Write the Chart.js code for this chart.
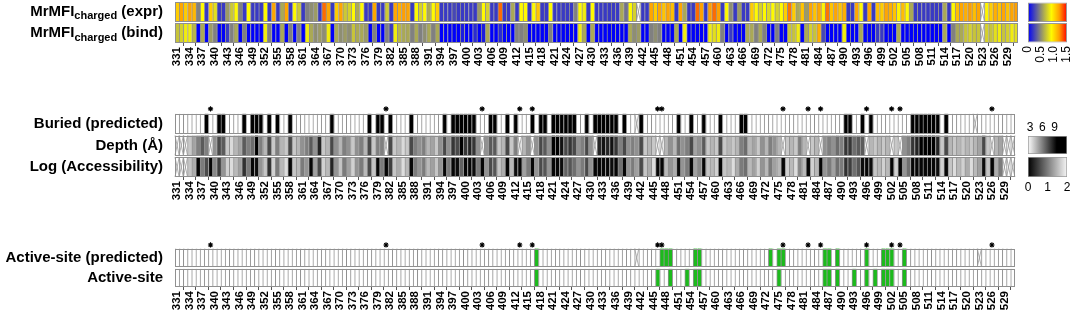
<!DOCTYPE html>
<html>
<head>
<meta charset="utf-8">
<script src="https://cdn.jsdelivr.net/npm/chart.js@4.4.1/dist/chart.umd.min.js"></script>
<style>
  html, body { margin: 0; padding: 0; background: #fff; }
  #wrap { position: relative; width: 1072px; height: 316px; overflow: hidden; }
  canvas { position: absolute; }
</style>
</head>
<body>
<div id="wrap">
  <canvas id="cTop" width="1020" height="72" style="left:0;top:0"></canvas>
  <canvas id="cMid" width="1020" height="106" style="left:0;top:100px"></canvas>
  <canvas id="cBot" width="1020" height="80" style="left:0;top:236px"></canvas>
  <canvas id="cbTop" width="52" height="72" style="left:1020px;top:0"></canvas>
  <canvas id="cbDepth" width="52" height="36" style="left:1020px;top:118px"></canvas>
  <canvas id="cbAcc" width="52" height="34" style="left:1020px;top:157px"></canvas>
</div>
<script>
// ── data ─────────────────────────────────────────────────────────────────
const RESIDUES = Array.from({ length: 201 }, (_, i) => 331 + i);
const TICK_EVERY = 3;

// MrMFI(charged), expression and binding (null = no data)
const MFI_EXPR = [
  1.05, 1.18, 1.05, 1.18, 1.12, 0.45, 0.9, 0.2, 1.05, 0.8,
  0.2, 0.2, 0.55, 0.72, 0.9, 0.45, 0.2, 0.9, 0.2, 0.2,
  0.2, 0.9, 0.2, 1.18, 0.2, 0.6, 1.18, 0.2, 0.9, 0.72,
  0.2, 0.45, 0.5, 0.55, 0.2, 1.3, 1.18, 0.2, 1.05, 1.18,
  0.72, 0.75, 0.9, 0.6, 0.9, 0.2, 0.2, 1.18, 0.2, 0.2,
  0.72, 0.2, 1.18, 1.15, 1.2, 1.18, 0.2, 0.9, 0.75, 0.9,
  0.6, 0.9, 1.05, 0.2, 0.2, 0.2, 0.25, 0.2, 0.2, 0.2,
  0.2, 0.2, 0.55, 0.9, 0.75, 0.2, 0.2, 1.3, 0.2, 0.2,
  0.6, 0.2, 0.9, 0.9, 0.2, 0.9, 1.08, 0.2, 0.2, 0.9,
  0.2, 0.2, 0.2, 0.2, 0.2, 0.45, 0.9, 0.85, 0.2, 0.9,
  0.2, 0.2, 0.2, 0.2, 0.2, 0.2, 0.6, 0.4, 0.9, 0.75,
  null, 0.2, 0.2, 1.18, 1.05, 1.18, 1.08, 1.18, 1.1, 0.2,
  1.18, 0.6, 0.2, 0.2, 1.3, 1.2, 0.2, 1.2, 1.3, 1.2,
  0.2, 0.9, 0.5, 0.2, 0.55, 0.2, 0.2, 1.05, 0.9, 0.75,
  0.9, 0.78, 0.9, 0.75, 0.9, 1.05, 1.28, 1.05, 0.6, 1.08,
  0.55, 1.18, 1.08, 1.18, 0.92, 1.28, 1.08, 1.18, 1.08, 1.15,
  0.2, 0.2, 1.18, 0.9, 0.2, 1.18, 0.2, 1.1, 1.05, 1.18,
  1.15, 1.08, 0.92, 1.1, 0.9, 0.6, 0.2, 0.2, 0.2, 0.2,
  0.2, 0.2, 0.2, 0.6, 0.2, 0.9, 1.1, 1.18, 1.15, 1.2,
  1.1, 1.18, null, 0.92, 1.05, 1.15, 1.08, 1.18, 1.08, 1.18, 1.2,
];
const MFI_BIND = [
  0.7, 0.75, 0.85, 0.85, 0.65, 0, 0.6, 0, 0.55, 0.45,
  0, 0, 0.2, 0.45, 0.6, 0, 0.45, 0, 0, 0,
  0, 0.85, 0.45, 0, 0, 0.6, 0, 0.45, 0, 0.45,
  0, 0.85, 0.6, 0.5, 0.55, 0.5, 0.85, 0, 0.6, 0.5,
  0.55, 0.5, 0.7, 0.6, 0.6, 0.55, 0, 0.45, 0, 0,
  0.45, 0.2, 0.85, 0.65, 0.6, 0.6, 0.45, 0.6, 0.45, 0.5,
  0.6, 0.45, 0.6, 0, 0, 0, 0, 0, 0.1, 0,
  0, 0.15, 0, 0.1, 0.6, 0, 0, 0.15, 0, 0,
  0, 0.45, 0.45, 0.5, 0, 0, 0, 0, 0, 0.45,
  0, 0, 0, 0, 0, 0, 0.85, 0.6, 0, 0.6,
  0, 0, 0, 0, 0, 0, 0, 0, 0.6, 0.5,
  0.55, 0, 0, 0.45, 0.5, 0.45, 0, 0, 0, 0.6,
  0, 0.85, 0, 0, 0, 0, 0, 0.85, 0.8, 0.85,
  0.45, 0, 0.2, 0, 0, 0, 0.6, 0.6, 0.45, 0.6,
  0.45, 0, 0, 0.45, 0, 0, 0.7, 0.7, 0.85, 0,
  0.6, 0.75, 0.7, 1.15, 0.25, 0, 0, 0, 0, 0.85,
  0, 0, 0, 0.6, 0, 0, 0, 0.2, 0.2, 0,
  0, 0, 0.6, 0, 0, 0, 0, 0, 0, 0,
  0, 0, 0, 0.6, 0, 0.45, 0.6, 0.6, 0.7, 0.75,
  0.7, 0.7, null, 0.75, 0.7, 0.8, 0.85, 0.7, 0.75, 0.85, 0.8,
];

// buried residues (predicted), residue depth (Å), log(accessibility)
const BURIED = [338, 341, 342, 347, 349, 350, 351, 353, 355, 358, 368, 377, 379, 380, 382, 387,
  395, 397, 398, 399, 400, 401, 402, 406, 407, 410, 412, 416, 418, 419, 421, 422, 423, 424, 425, 426,
  429, 431, 432, 433, 434, 435, 436, 438, 442, 451, 454, 457, 461, 466, 467, 491, 492, 495, 497,
  507, 508, 509, 510, 511, 512, 513, 515];
const BURIED_NA = [441, 522];
const DEPTH = [
  null, null, null, 4.0, 5.0, 6.0, 7.0, 6.0, null, 5.5,
  7.5, 7.0, 4.0, 3.5, 4.5, 5.0, 7.0, 6.0, 6.5, 9.5,
  6.0, 4.5, 7.5, 4.0, 6.0, 4.5, 4.0, 7.5, 4.0, 4.5,
  5.5, 6.0, 7.0, 5.5, 8.5, 4.0, 4.5, 7.5, 5.5, 4.5,
  6.0, 5.5, 4.0, 5.5, 6.0, 4.5, 7.5, 4.0, 6.0, 6.0,
  null, 7.5, 4.0, 4.5, 3.5, 4.0, 7.5, 6.0, 5.5, 6.0,
  4.5, 5.0, 4.0, 5.5, 7.5, 5.5, 8.0, 7.5, 9.5, 8.0,
  8.5, 8.0, 5.5, null, 5.5, 7.0, 7.0, 4.0, 4.5, 7.5,
  4.0, 6.0, null, 4.5, 5.5, null, 5.5, 7.5, 7.0, 5.5,
  9.5, 9.5, 9.0, 7.5, 8.0, 7.5, 5.5, 6.0, 7.5, 5.5,
  null, 8.5, 9.0, 8.5, 9.0, 8.0, 6.0, 7.5, 5.5, 6.0,
  5.5, 7.5, 4.0, 4.5, 4.0, null, null, 4.5, 5.5, 4.5,
  6.5, 5.5, 6.0, 7.5, 5.0, 5.5, 7.0, 4.0, 4.5, 4.0,
  7.5, 4.0, 4.5, 4.0, 4.5, 6.0, 6.5, 4.5, 5.0, 4.0,
  5.5, 4.5, 6.0, 5.5, 4.5, null, 4.0, 4.5, 4.0, 6.0,
  4.5, null, 4.0, 4.5, null, 5.5, 6.0, 5.5, 6.5, 6.0,
  8.0, 8.0, 6.5, 7.0, 7.0, null, 4.5, 4.0, 4.5, 4.0,
  4.5, null, 4.0, null, 5.5, 6.0, 8.0, 8.5, 9.5, 10.0,
  10.0, 9.5, 8.5, 4.0, 7.5, 4.5, 4.0, 4.5, 4.0, 4.5,
  4.0, 4.5, 5.0, 7.5, 4.0, null, 4.5, 5.0, null, null, null,
];
const LOG_ACC = [
  null, null, null, 1.6, 1.4, 0.05, 1.0, 0.6, 0.05, 1.1,
  0.5, 1.2, 1.7, 1.8, 1.5, 1.3, 0.4, 1.0, 0.05, 0.1,
  1.2, 1.6, 0.4, 1.7, 1.0, 1.5, 1.8, 0.05, 1.6, 1.5,
  1.0, 1.2, 0.05, 1.3, 0.6, 1.7, 1.5, 0.3, 1.2, 1.6,
  1.0, 1.3, 1.7, 1.2, 1.0, 1.5, 0.6, 1.6, 0.05, 1.0,
  0.05, 0.5, 1.6, 1.4, 1.8, 1.5, 0.05, 1.0, 1.2, 1.0,
  1.5, 1.3, 1.6, 1.2, 0.05, 1.0, 0.05, 0.1, 0.8, 0.05,
  0.05, 0.1, 1.0, 0.05, 1.2, 0.6, 0.7, 1.6, 1.4, 0.05,
  1.5, 0.1, 0.05, 1.3, 1.0, 0.05, 1.2, 0.6, 0.7, 1.2,
  0.05, 0.05, 0.1, 0.8, 0.7, 0.9, 1.2, 1.0, 0.6, 1.2,
  0.05, 0.05, 0.05, 0.05, 0.1, 0.05, 0.9, 0.05, 1.2, 1.0,
  1.3, 0.6, 1.6, 1.4, 1.8, 0.05, 0.05, 1.5, 1.2, 1.4,
  0.1, 1.2, 1.0, 0.05, 1.3, 1.1, 0.05, 1.6, 1.5, 1.7,
  0.05, 1.6, 1.5, 1.8, 1.4, 1.0, 0.9, 1.5, 1.3, 1.7,
  1.2, 1.5, 1.0, 1.3, 1.5, 0.05, 1.7, 1.5, 1.8, 1.1,
  1.5, 0.05, 1.7, 1.5, 0.05, 1.2, 1.0, 1.3, 0.9, 1.0,
  0.4, 0.5, 0.9, 0.7, 0.1, 0.05, 0.1, 1.6, 1.5, 1.7,
  1.5, 0.05, 1.7, 0.05, 1.2, 0.9, 0.05, 0.05, 0.05, 0.05,
  0.05, 0.05, 0.1, 1.7, 0.05, 1.6, 1.8, 1.5, 1.7, 1.4,
  1.8, 1.5, 1.3, 0.1, 1.6, 0.05, 1.4, 1.0, null, null, null,
];

// active-site residues (predicted / known)
const SITE_PRED = [417, 447, 448, 449, 455, 456, 473, 475, 476, 486, 487, 489, 496, 500, 501, 502, 505];
const SITE_PRED_NA = [441, 523];
const SITE = [417, 446, 449, 453, 455, 456, 475, 486, 487, 489, 493, 496, 498, 500, 501, 502, 505];

// residues marked with an asterisk
const STARRED = [339, 381, 404, 413, 416, 446, 447, 476, 482, 485, 496, 502, 504, 526];

// colour scales
const MFI_STOPS = [[0, [0, 0, 250]], [0.45, [128, 128, 128]], [0.9, [255, 250, 0]], [1.2, [255, 160, 0]], [1.5, [255, 0, 0]]];
const MFI_TICKS = [0, 0.5, 1.0, 1.5];
const DEPTH_STOPS = [[3, [236, 236, 236]], [9.5, [0, 0, 0]]];
const DEPTH_TICKS = [3, 6, 9];
const ACC_STOPS = [[0, [0, 0, 0]], [2, [246, 246, 246]]];
const ACC_TICKS = [0, 1, 2];

// ── helpers ──────────────────────────────────────────────────────────────
const FONT = "'Liberation Sans', Arial, Helvetica, sans-serif";
Chart.defaults.font.family = FONT;
Chart.defaults.color = '#000';

const CELL_LINE = '#909090';
const GREEN = '#1cba1c';

function rampRGB(stops, v) {
    if (v <= stops[0][0]) return stops[0][1];
    for (let k = 1; k < stops.length; k++) {
        if (v <= stops[k][0]) {
            const [v0, c0] = stops[k - 1];
            const [v1, c1] = stops[k];
            const t = (v - v0) / (v1 - v0);
            return c0.map((c, j) => Math.round(c + (c1[j] - c) * t));
        }
    }
    return stops[stops.length - 1][1];
}
const rgb = (c) => `rgb(${c[0]},${c[1]},${c[2]})`;
const ramp = (stops) => (v) => rgb(rampRGB(stops, v));
const flags = (list, na = []) => RESIDUES.map((r) => (na.includes(r) ? null : list.includes(r) ? 1 : 0));

// rotated labels would otherwise push the plot area inwards
const noEdgePadding = (s) => { s.paddingLeft = 0; s.paddingRight = 0; };

// one heat-map row = floating bars [lo, hi] across every residue
function heatRow(values, lo, hi, colorOf) {
    return {
        type: 'bar',
        data: values.map(() => [lo, hi]),
        backgroundColor: values.map((v) => (v === null ? '#fff' : colorOf(v))),
        borderColor: CELL_LINE,
        borderWidth: { left: 1, right: 0, top: 0, bottom: 0 },
        borderSkipped: false,
        grouped: false,
        barPercentage: 1,
        categoryPercentage: 1,
        order: 2,
    };
}

function drawLabel(ctx, parts, right, y) {
    const big = `bold 15px ${FONT}`;
    const small = `bold 11px ${FONT}`;
    let w = 0;
    parts.forEach((p) => { ctx.font = p.sub ? small : big; w += ctx.measureText(p.t).width; });
    let x = right - w;
    ctx.textAlign = 'left';
    parts.forEach((p) => {
        ctx.font = p.sub ? small : big;
        ctx.fillText(p.t, x, p.sub ? y + 4.5 : y);
        x += ctx.measureText(p.t).width;
    });
}

// rows: bottom → top, each { parts, values, lo, hi }
function heatChart(id, rows, colors, yMax, starY) {
    const datasets = rows.map((r, k) => heatRow(r.values, r.lo, r.hi, colors[k]));
    if (starY !== null) {
        datasets.push({
            type: 'line',
            data: RESIDUES.map((r) => (STARRED.includes(r) ? starY : null)),
            showLine: false,
            pointStyle: 'star',
            pointRadius: 2.6,
            borderWidth: 1.1,
            borderColor: '#000',
            clip: false,
            order: 0,
        });
    }

    const decor = {
        id: 'decor-' + id,
        afterDatasetsDraw(chart) {
            const { ctx, chartArea } = chart;
            const xs = chart.scales.x;
            const ys = chart.scales.y;
            const cw = xs.width / RESIDUES.length;
            ctx.save();
            rows.forEach((r) => {
                const top = ys.getPixelForValue(r.hi);
                const bot = ys.getPixelForValue(r.lo);
                // missing values: crossed cells
                ctx.strokeStyle = '#9a9a9a';
                ctx.lineWidth = 0.8;
                r.values.forEach((v, i) => {
                    if (v !== null) return;
                    const l = xs.getPixelForValue(i) - cw / 2;
                    ctx.beginPath();
                    ctx.moveTo(l, top); ctx.lineTo(l + cw, bot);
                    ctx.moveTo(l + cw, top); ctx.lineTo(l, bot);
                    ctx.stroke();
                });
                ctx.strokeStyle = CELL_LINE;
                ctx.lineWidth = 1;
                ctx.strokeRect(Math.round(chartArea.left) + 0.5, Math.round(top) + 0.5,
                    Math.round(chartArea.right - chartArea.left) - 1, Math.round(bot - top) - 1);
            });
            ctx.restore();
        },
        afterDraw(chart) {
            const { ctx } = chart;
            const ys = chart.scales.y;
            ctx.save();
            ctx.fillStyle = '#000';
            ctx.textBaseline = 'middle';
            rows.forEach((r) => drawLabel(ctx, r.parts, 163, ys.getPixelForValue((r.lo + r.hi) / 2)));
            ctx.restore();
        },
    };

    return new Chart(document.getElementById(id), {
        type: 'bar',
        data: { labels: RESIDUES.map(String), datasets },
        options: {
            responsive: false,
            devicePixelRatio: 1,
            animation: false,
            events: [],
            layout: { padding: { left: 175, right: 2, top: 2, bottom: 0 } },
            plugins: { legend: { display: false }, tooltip: { enabled: false } },
            scales: {
                x: {
                    type: 'category',
                    offset: true,
                    grid: { display: true, drawOnChartArea: false, drawTicks: true, tickLength: 3, color: '#555' },
                    border: { display: false },
                    ticks: {
                        autoSkip: false,
                        minRotation: 90,
                        maxRotation: 90,
                        padding: 1,
                        color: '#000',
                        font: { size: 11.5, weight: 'bold' },
                        callback: (v, i) => ((RESIDUES[i] - RESIDUES[0]) % TICK_EVERY === 0 ? String(RESIDUES[i]) : null),
                    },
                    afterFit: (s) => { s.height = 29; noEdgePadding(s); },
                },
                y: { type: 'linear', display: false, min: 0, max: yMax },
            },
        },
        plugins: [decor],
    });
}

function colorBar(id, cats, stops, ticks, fmt, axis) {
    const fill = (c) => {
        const chart = c.chart;
        if (!chart.chartArea) return '#fff';
        const xs = chart.scales.x;
        const g = chart.ctx.createLinearGradient(xs.left, 0, xs.right, 0);
        stops.forEach(([v, col]) => {
            const off = Math.min(1, Math.max(0, (xs.getPixelForValue(v) - xs.left) / xs.width));
            g.addColorStop(off, rgb(col));
        });
        return g;
    };
    return new Chart(document.getElementById(id), {
        type: 'bar',
        data: {
            labels: cats,
            datasets: [{
                data: cats.map(() => [axis.min, axis.max]),
                backgroundColor: fill,
                borderColor: '#9a9a9a',
                borderWidth: 1,
                borderSkipped: false,
                barPercentage: 1,
                categoryPercentage: axis.catPct,
            }],
        },
        options: {
            indexAxis: 'y',
            responsive: false,
            devicePixelRatio: 1,
            animation: false,
            events: [],
            layout: { padding: { left: 8, right: 5, top: axis.padTop, bottom: 0 } },
            plugins: { legend: { display: false }, tooltip: { enabled: false } },
            scales: {
                y: { type: 'category', display: false },
                x: {
                    type: 'linear',
                    position: axis.position,
                    min: axis.min,
                    max: axis.max,
                    grid: { display: false, drawTicks: false },
                    border: { display: false },
                    afterBuildTicks: (s) => { s.ticks = ticks.map((v) => ({ value: v })); },
                    ticks: {
                        autoSkip: false,
                        minRotation: axis.rot,
                        maxRotation: axis.rot,
                        padding: axis.tickPad,
                        color: '#000',
                        font: { size: 12 },
                        callback: fmt,
                    },
                    afterFit: (s) => { s.height = axis.height; noEdgePadding(s); },
                },
            },
        },
    });
}

// ── charts ───────────────────────────────────────────────────────────────
const mfi = ramp(MFI_STOPS);

heatChart('cTop', [
    { parts: [{ t: 'MrMFI' }, { t: 'charged', sub: true }, { t: ' (bind)' }], values: MFI_BIND, lo: 0, hi: 1 },
    { parts: [{ t: 'MrMFI' }, { t: 'charged', sub: true }, { t: ' (expr)' }], values: MFI_EXPR, lo: 1.1, hi: 2.1 },
], [mfi, mfi], 2.1, null);

heatChart('cMid', [
    { parts: [{ t: 'Log (Accessibility)' }], values: LOG_ACC, lo: 0, hi: 1 },
    { parts: [{ t: 'Depth (Å)' }], values: DEPTH, lo: 1.1, hi: 2.1 },
    { parts: [{ t: 'Buried (predicted)' }], values: flags(BURIED, BURIED_NA), lo: 2.2, hi: 3.2 },
], [ramp(ACC_STOPS), ramp(DEPTH_STOPS), (v) => (v ? '#000' : '#fff')], 3.64, 3.45);

heatChart('cBot', [
    { parts: [{ t: 'Active-site' }], values: flags(SITE), lo: 0, hi: 1 },
    { parts: [{ t: 'Active-site (predicted)' }], values: flags(SITE_PRED, SITE_PRED_NA), lo: 1.1, hi: 2.1 },
], [(v) => (v ? GREEN : '#fff'), (v) => (v ? GREEN : '#fff')], 2.51, 2.3);

colorBar('cbTop', ['expr', 'bind'], MFI_STOPS, MFI_TICKS, (v) => (v === 0 ? '0' : v.toFixed(1)),
    { min: 0, max: 1.5, position: 'bottom', rot: 90, tickPad: 3, height: 29, padTop: 2, catPct: 0.95 });
colorBar('cbDepth', ['depth'], DEPTH_STOPS, DEPTH_TICKS, (v) => String(v),
    { min: 2.5, max: 12, position: 'top', rot: 0, tickPad: 1, height: 18, padTop: 0, catPct: 1 });
colorBar('cbAcc', ['acc'], ACC_STOPS, ACC_TICKS, (v) => String(v),
    { min: 0, max: 2, position: 'bottom', rot: 0, tickPad: 3, height: 14, padTop: 0, catPct: 1 });
</script>
</body>
</html>
